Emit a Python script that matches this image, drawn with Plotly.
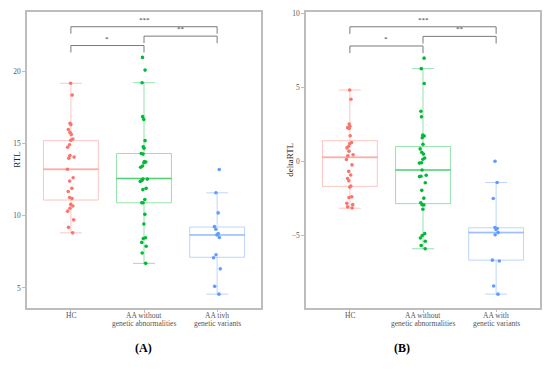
import plotly.graph_objects as go

# ---------------- data ----------------
groups = ["HC", "AA without", "AA with"]
tick_labels_a = ["HC", "AA without<br>genetic abnormalities", "AA tivh<br>genetic variants"]
tick_labels_b = ["HC", "AA without<br>genetic abnormalities", "AA with<br>genetic variants"]

hc_rtl = [19.16, 18.34, 16.39, 16.30, 15.96, 15.76, 15.62, 15.30, 15.21, 14.91, 14.73, 14.16, 14.05, 13.98,
          13.21, 12.62, 12.39, 11.89, 11.67, 11.26, 11.19, 10.78, 10.67, 10.51, 10.31, 9.71, 9.19, 8.81]
aawo_rtl = [20.95, 20.07, 19.20, 16.85, 16.66, 15.19, 14.76, 14.67, 14.30, 14.26, 13.75, 13.71, 13.66, 13.44,
            13.35, 12.53, 12.53, 12.44, 12.37, 11.89, 11.80, 11.12, 10.89, 10.89, 10.09, 9.42, 8.47, 8.42,
            8.15, 7.88, 7.42, 6.70]
aaw_rtl = [13.19, 11.58, 10.19, 9.24, 9.06, 8.76, 8.67, 8.49, 7.30, 7.09, 6.32, 5.11, 4.57]

rtl_q1 = [11.08, 10.89, 7.12]
rtl_median = [13.21, 12.57, 8.67]
rtl_q3 = [15.19, 14.30, 9.21]
rtl_lowerfence = [8.81, 6.70, 4.57]
rtl_upperfence = [19.16, 19.20, 11.58]

hc_d = [4.81, 4.19, 2.52, 2.36, 2.27, 2.21, 1.72, 1.26, 1.19, 1.01, 0.90, 0.68, 0.44, 0.37, 0.11, -0.25,
        -0.69, -0.93, -1.17, -1.33, -1.68, -1.75, -2.41, -2.46, -2.85, -2.94, -3.09, -3.16]
aawo_d = [6.97, 6.26, 5.25, 3.38, 3.00, 1.76, 1.70, 1.59, 1.15, 0.83, 0.60, 0.48, 0.22, 0.13, -0.11, -0.13,
          -0.60, -0.95, -1.02, -1.04, -1.46, -1.97, -2.50, -2.81, -2.94, -2.96, -3.25, -4.90, -5.03, -5.19,
          -5.41, -5.70, -5.92]
aaw_d = [0.0, -1.44, -2.52, -4.48, -4.55, -4.62, -4.83, -4.97, -6.69, -6.75, -8.44, -8.99]

d_q1 = [-1.70, -2.87, -6.69]
d_median = [0.26, -0.60, -4.83]
d_q3 = [1.39, 0.99, -4.50]
d_lowerfence = [-3.18, -5.92, -8.99]
d_upperfence = [4.81, 6.26, -1.44]

comparisons = [(1, 2, "*"), (2, 3, "**"), (1, 3, "***")]

# ---------------- styling ----------------
colors = ["248,118,109", "0,186,56", "97,156,255"]
FONT = "Liberation Serif"
BORDER = "#BDBDBD"
BOX_W = 0.75
CAP_W = 0.3
H = 369
W = 550

fig = go.Figure()


def add_panel(xa, ya, samples, q1, med, q3, lf, uf, labels):
    ax_x = "x" if xa == 1 else "x2"
    ax_y = "y" if ya == 1 else "y2"
    for i, (pts, c) in enumerate(zip(samples, colors)):
        pos = i + 1
        light = f"rgba({c},0.42)"
        fig.add_trace(go.Box(
            x=[pos], q1=[q1[i]], median=[med[i]], q3=[q3[i]], lowerfence=[lf[i]], upperfence=[uf[i]],
            width=BOX_W, boxpoints=False, fillcolor="rgba(255,255,255,0)",
            line=dict(color=light, width=1), whiskerwidth=0,
            xaxis=ax_x, yaxis=ax_y, showlegend=False, hoverinfo="skip"))
        # fattened median line (as in ggplot)
        fig.add_trace(go.Scatter(
            x=[pos - BOX_W / 2, pos + BOX_W / 2], y=[med[i], med[i]], mode="lines",
            line=dict(color=light, width=2), xaxis=ax_x, yaxis=ax_y, showlegend=False, hoverinfo="skip"))
        # errorbar caps
        for v in (lf[i], uf[i]):
            fig.add_trace(go.Scatter(
                x=[pos - CAP_W / 2, pos + CAP_W / 2], y=[v, v], mode="lines",
                line=dict(color=light, width=1), xaxis=ax_x, yaxis=ax_y, showlegend=False,
                hoverinfo="skip"))
        # jittered points
        fig.add_trace(go.Box(
            x=[pos] * len(pts), y=pts, width=BOX_W, boxpoints="all", jitter=0.16, pointpos=0,
            fillcolor="rgba(0,0,0,0)", line=dict(color="rgba(0,0,0,0)", width=0),
            marker=dict(color=f"rgb({c})", size=3.6),
            xaxis=ax_x, yaxis=ax_y, showlegend=False, hoverinfo="y"))
        # category label (two lines, tight spacing like ggplot)
        for j, line in enumerate(labels[i].split("<br>")):
            fig.add_annotation(x=pos, y=1 - (315.5 + 8 * j) / H, xref=ax_x, yref="paper", text=line,
                               showarrow=False, yanchor="middle",
                               font=dict(family=FONT, size=7.5, color="#555555"))

    # significance brackets
    ymax = max(max(s) for s in samples)
    ymin = min(min(s) for s in samples)
    tick = 0.48
    top = ymax
    for k, (a, b, lab) in enumerate(comparisons):
        yl = ymax + 0.82 + 0.65 * k
        top = yl
        fig.add_trace(go.Scatter(
            x=[a, a, b, b], y=[yl - tick, yl, yl, yl - tick], mode="lines",
            line=dict(color="#7A7A7A", width=1), xaxis=ax_x, yaxis=ax_y, showlegend=False,
            hoverinfo="skip"))
        fig.add_annotation(x=(a + b) / 2, y=yl, xref=ax_x, yref=ax_y, text=lab, showarrow=False,
                           yanchor="bottom", yshift=1, font=dict(family=FONT, size=7, color="#333333"))
    span = top - ymin
    return [ymin - 0.05 * span, top + 0.05 * span + 0.1]


r1 = add_panel(1, 1, [hc_rtl, aawo_rtl, aaw_rtl], rtl_q1, rtl_median, rtl_q3, rtl_lowerfence,
               rtl_upperfence, tick_labels_a)
r2 = add_panel(2, 2, [hc_d, aawo_d, aaw_d], d_q1, d_median, d_q3, d_lowerfence, d_upperfence,
               tick_labels_b)

y_dom = [1 - 307 / H, 1 - 9 / H]
axis_common = dict(showline=True, mirror=True, linecolor=BORDER, linewidth=1.5, showgrid=False,
                   zeroline=False, ticks="outside", ticklen=3, tickcolor=BORDER,
                   tickfont=dict(family=FONT, size=7.5, color="#555555"))

fig.update_layout(
    width=W, height=H, margin=dict(l=0, r=0, t=0, b=0),
    paper_bgcolor="white", plot_bgcolor="white", boxmode="overlay",
    xaxis=dict(domain=[27 / W, 261 / W], range=[0.4, 3.6], tickvals=[1, 2, 3],
               showticklabels=False, anchor="y", **axis_common),
    yaxis=dict(domain=y_dom, range=r1, tickvals=[5, 10, 15, 20], anchor="x", **axis_common),
    xaxis2=dict(domain=[306 / W, 540 / W], range=[0.4, 3.6], tickvals=[1, 2, 3],
                showticklabels=False, anchor="y2", **axis_common),
    yaxis2=dict(domain=y_dom, range=r2, tickvals=[-5, 0, 5, 10], anchor="x2", **axis_common),
)

fig.add_annotation(x=10 / W, y=1 - 158 / H, xref="paper", yref="paper", text="RTL", textangle=-90,
                   showarrow=False, font=dict(family=FONT, size=9, color="#222222"))
fig.add_annotation(x=290 / W, y=1 - 158 / H, xref="paper", yref="paper", text="deltaRTL", textangle=-90,
                   showarrow=False, font=dict(family=FONT, size=9, color="#222222"))
fig.add_annotation(x=133 / W, y=1 - 357 / H, xref="paper", yref="paper", text="<b>(A)</b>",
                   showarrow=False, font=dict(family=FONT, size=12, color="#000000"))
fig.add_annotation(x=412 / W, y=1 - 357 / H, xref="paper", yref="paper", text="<b>(B)</b>",
                   showarrow=False, font=dict(family=FONT, size=12, color="#000000"))

fig.write_html("out.html", config={"displayModeBar": False},
               post_script="document.body.style.margin='0';")
